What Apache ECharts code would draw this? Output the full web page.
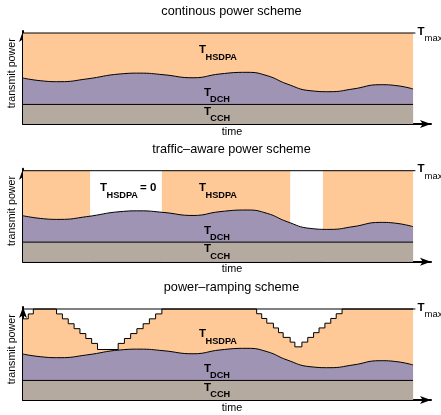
<!DOCTYPE html>
<html>
<head>
<meta charset="utf-8">
<script src="https://cdn.jsdelivr.net/npm/echarts@6/dist/echarts.min.js"></script>
<style>html,body{margin:0;padding:0;background:#fff}#c{width:441px;height:415px}</style>
</head>
<body>
<div id="c"></div>
<script>
// ---- data (time in % of window, power in % of Tmax) ----
const tmaxLevel = 100;
const cchLevel = 21.5;
const waveTime  = [0, 4.4, 9.5, 16.3, 24.9, 30, 35.9, 43.6, 50.5, 57.4, 62.6, 67.7, 73.6, 78.7, 84.6, 91.5, 95.9, 100];
const dchPower  = [50.5, 47.6, 46.5, 49.5, 55, 55.9, 54.2, 50.8, 55, 56.8, 53.1, 44, 36.6, 35.5, 38.5, 43.2, 42.1, 38.5];
const trafficTime  = [0, 17.2, 35.6, 68.5, 76.9, 100];
const trafficLevel = [100, 0, 100, 0, 100, 100];
const rampTime  = [0, 1.35, 2.65, 8.6, 10.1, 11.6, 13.1, 14.6, 16.1, 17.6, 19.1, 24.4, 26.0, 27.6, 29.2, 30.8, 32.4, 34.0, 35.6,
                   59.9, 61.2, 62.5, 64.2, 65.5, 66.7, 68.5, 69.7, 71.5, 73.0, 74.5, 75.9, 77.4, 78.9, 80.3, 81.8, 100];
const rampLevel = [89.2, 94.6, 100, 94.6, 89.2, 83.8, 78.4, 73, 67.6, 62.2, 55.5, 62.2, 67.6, 73, 78.4, 83.8, 89.2, 94.6, 100,
                   94.8, 89.6, 84.4, 79.2, 74, 68.8, 63.6, 58.4, 63.6, 68.8, 74, 79.2, 84.4, 89.6, 94.8, 100, 100];
const panelTitles = ['continous power scheme', 'traffic\u2013aware power scheme', 'power\u2013ramping scheme'];

// ---- styling / layout ----
const ORANGE = '#FFC997', PURPLE = '#9F94B4', GRAY = '#B4AAA0';
const FONT = '"Liberation Sans", Arial, Helvetica, sans-serif';
const axisBottoms = [124, 261.7, 400];
const gridH = 93, xMax = 104.6, yMax = 102.2;

const zip = (a, b) => a.map((v, i) => [v, b[i]]);

const grids = [], xAxes = [], yAxes = [], series = [], graphics = [];
axisBottoms.forEach((b, i) => {
  grids.push({left: 23, width: 408, top: b - gridH, height: gridH});
  const axisLine = {show: true, symbol: ['none', 'arrow'], symbolSize: [6, 11], lineStyle: {color: '#000', width: 2}};
  xAxes.push({type: 'value', gridIndex: i, min: 0, max: xMax, axisLine, axisTick: {show: false}, axisLabel: {show: false}, splitLine: {show: false}});
  yAxes.push({type: 'value', gridIndex: i, min: 0, max: yMax, axisLine, axisTick: {show: false}, axisLabel: {show: false}, splitLine: {show: false}});
  const common = {xAxisIndex: i, yAxisIndex: i, symbol: 'none', silent: true, animation: false};
  // HSDPA region
  let hsdpa;
  if (i === 0) hsdpa = {data: [[0, tmaxLevel], [100, tmaxLevel]], lineStyle: {width: 0}};
  else if (i === 1) hsdpa = {data: zip(trafficTime, trafficLevel), step: 'end', lineStyle: {width: 0}};
  else hsdpa = {data: zip(rampTime, rampLevel), step: 'end', lineStyle: {width: 1, color: '#000'}};
  series.push(Object.assign({type: 'line', areaStyle: {color: ORANGE, opacity: 1}}, common, hsdpa));
  // Tmax line
  series.push(Object.assign({type: 'line', data: [[0, tmaxLevel], [100.6, tmaxLevel]], lineStyle: {color: '#000', width: 1}}, common));
  // DCH
  series.push(Object.assign({type: 'line', smooth: 0.5, data: zip(waveTime, dchPower), lineStyle: {color: '#000', width: 1}, areaStyle: {color: PURPLE, opacity: 1}}, common));
  // CCH
  series.push(Object.assign({type: 'line', data: [[0, cchLevel], [100, cchLevel]], lineStyle: {color: '#000', width: 1}, areaStyle: {color: GRAY, opacity: 1}}, common));

  // texts
  const mk = (x, y, text, size, weight, align, rot) => graphics.push({type: 'text', x, y, z: 100, zlevel: 0, silent: true,
    rotation: rot || 0,
    style: {text, font: `${weight} ${size}px ${FONT}`, fill: '#000', align: align || 'left', verticalAlign: 'middle'}});
  mk(231.5, b - 112.5, panelTitles[i], 12.7, 'normal', 'center');
  mk(232, b + 7.8, 'time', 10.8, 'normal', 'center');
  mk(12.5, b - 50.7, 'transmit power', 10.7, 'normal', 'center', Math.PI / 2);
  const top = b - 90.7;
  // Tmax label
  mk(417.5, top - 1.7, 'T', 11.5, 'bold');
  mk(424.5, top + 5.3, 'max', 9.5, 'normal');
  // labels
  const hs = i === 2 ? top + 24.7 : top + 17;
  mk(199, hs, 'T', 11.5, 'bold');
  mk(205.5, hs + 7.3, 'HSDPA', 9.2, 'bold');
  if (i === 1) {
    mk(100, hs, 'T', 11.5, 'bold');
    mk(106.5, hs + 7.3, 'HSDPA', 9.2, 'bold');
    mk(140, hs, '= 0', 11.5, 'bold');
  }
  mk(204, b - 31, 'T', 11.5, 'bold');
  mk(210, b - 24.2, 'DCH', 9.2, 'bold');
  mk(204, b - 12.5, 'T', 11.5, 'bold');
  mk(210.3, b - 5.6, 'CCH', 9.2, 'bold');
});

const chart = echarts.init(document.getElementById('c'), null, {renderer: 'canvas'});
chart.setOption({animation: false, grid: grids, xAxis: xAxes, yAxis: yAxes, series, graphic: {elements: graphics}});
</script>
</body>
</html>
